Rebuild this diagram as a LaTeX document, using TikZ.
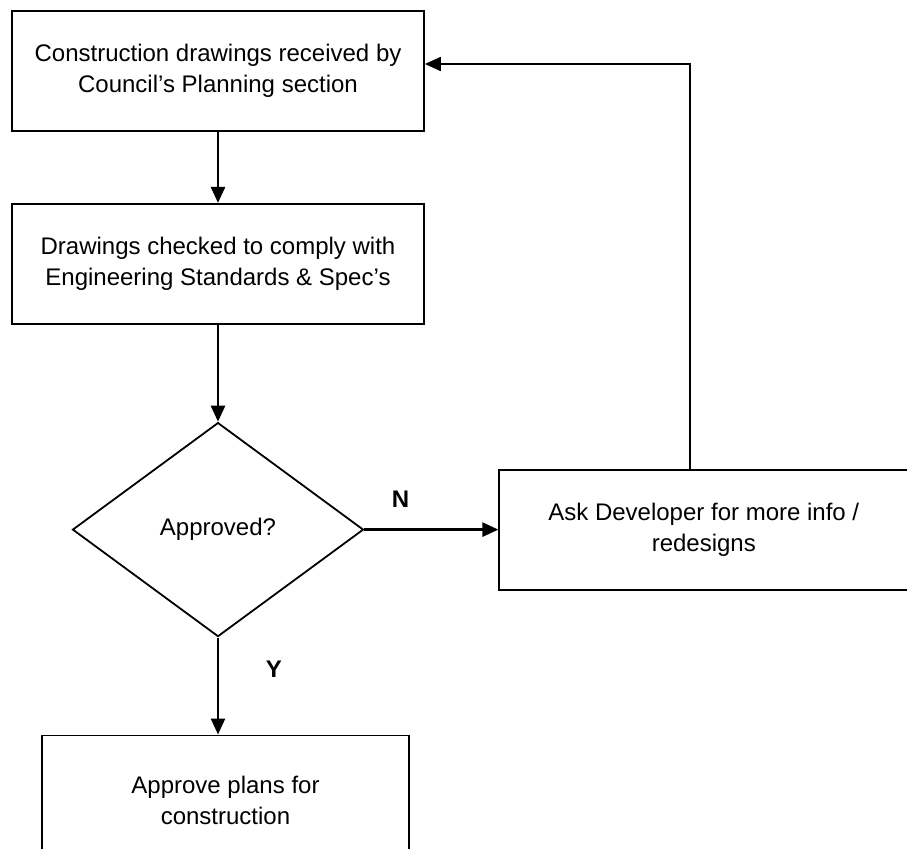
\documentclass[tikz,border=0pt]{standalone}
\usepackage{fontspec}
\setmainfont{Liberation Sans}
\usetikzlibrary{arrows.meta,positioning,shapes.geometric}

\begin{document}
\begin{tikzpicture}[
  flow/.style={-{Triangle[length=8pt, width=7pt]}, line width=1.3pt},
  back/.style={flow, line width=1pt},
  card/.style={draw, line width=0.9pt, align=center, inner sep=3pt,
    font=\fontsize{12}{15.5}\selectfont},
  stage/.style={card, minimum width=206pt, minimum height=60pt},
  query/.style={card, diamond, minimum width=145.5pt, minimum height=107pt},
  tag/.style={font=\fontsize{12}{15.5}\selectfont\bfseries}
]
\useasboundingbox (0,0) rectangle (453.5pt,-424pt);
\clip (0,0) rectangle (453.5pt,-424pt);
\node[stage] (drawings) at (109pt,-35.5pt) {Construction drawings received by\\Council's Planning section};
\node[stage, below=35.5pt of drawings] (check) {Drawings checked to comply with\\Engineering Standards \& Spec's};
\node[query, below=48.5pt of check] (approved) {Approved?};
\node[stage, minimum width=204.5pt, right=67pt of approved] (askdev) {Ask Developer for more info /\\redesigns};
\node[stage, minimum width=183.5pt, minimum height=65pt, below=48.5pt of approved, xshift=3.75pt] (approve) {Approve plans for\\construction};
\draw[flow] (drawings.south) -- (check.north);
\draw[flow] (check.south) -- (approved.north);
\draw[flow] (approved.east) -- node[tag, pos=0.27, yshift=15pt] (no) {N} (askdev.west);
\draw[flow] (approved.south) -- node[tag, pos=0.33, xshift=28pt] (yes) {Y} (approved.south |- approve.north);
\draw[back] ([xshift=-6.75pt]askdev.north) |- ([yshift=3.5pt]drawings.east);
\end{tikzpicture}
\end{document}
